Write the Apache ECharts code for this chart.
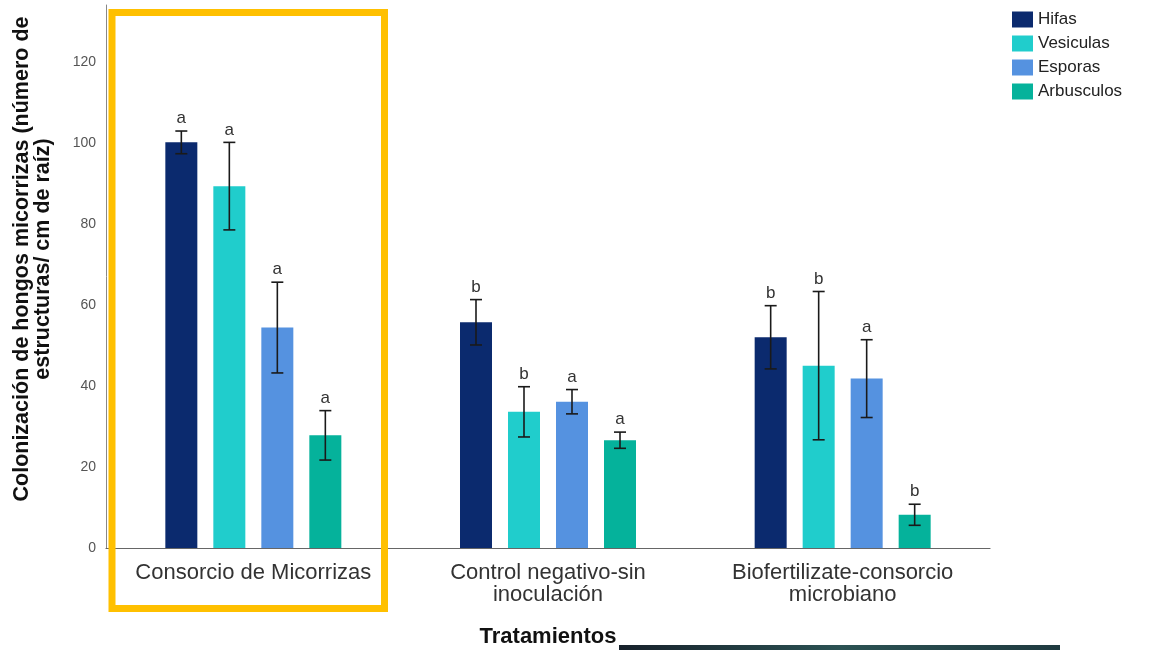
<!DOCTYPE html>
<html>
<head>
<meta charset="utf-8">
<script src="https://cdn.jsdelivr.net/npm/echarts@6/dist/echarts.min.js"></script>
<style>
  html, body { margin: 0; padding: 0; background: #fff; }
  #chart { width: 1153px; height: 650px; }
</style>
</head>
<body>
<div id="chart"></div>
<script>
// tratamientos
var categories = ['Consorcio de Micorrizas', 'Control negativo-sin\ninoculación', 'Biofertilizate-consorcio\nmicrobiano']

// medias
var hifas = [100.1, 55.7, 52.0]
var vesiculas = [89.3, 33.6, 45.0]
var esporas = [54.4, 36.1, 41.8]
var arbusculos = [27.8, 26.6, 8.2]

// error (+/-)
var hifasErr = [2.8, 5.6, 7.8]
var vesiculasErr = [10.8, 6.2, 18.3]
var esporasErr = [11.2, 3.0, 9.6]
var arbusculosErr = [6.1, 2.0, 2.6]

// letras de significancia
var hifasSig = ['a', 'b', 'b']
var vesiculasSig = ['a', 'b', 'b']
var esporasSig = ['a', 'a', 'a']
var arbusculosSig = ['a', 'a', 'b']

var yTicks = [0, 20, 40, 60, 80, 100, 120]

var names = ['Hifas', 'Vesiculas', 'Esporas', 'Arbusculos']
var colors = ['#0b2a6e', '#20cdcc', '#5592e0', '#05b29b']
var means = [hifas, vesiculas, esporas, arbusculos]
var errs = [hifasErr, vesiculasErr, esporasErr, arbusculosErr]
var sigs = [hifasSig, vesiculasSig, esporasSig, arbusculosSig]

var BAR_W = 32
var BAR_GAP = 16
var FONT = 'Liberation Sans, Arial, sans-serif'

function errorSeries (k) {
  var offset = (k - 1.5) * (BAR_W + BAR_GAP)
  return {
    type: 'custom',
    name: names[k] + ' err',
    z: 5,
    encode: { x: 0, y: [1, 2] },
    data: means[k].map(function (m, i) { return [i, m - errs[k][i], m + errs[k][i]] }),
    renderItem: function (params, api) {
      var c = api.value(0)
      var lo = api.coord([c, api.value(1)])
      var hi = api.coord([c, api.value(2)])
      var x = lo[0] + offset
      var st = { stroke: '#1a1a1a', lineWidth: 1.6 }
      return {
        type: 'group',
        children: [
          { type: 'line', shape: { x1: x, y1: hi[1], x2: x, y2: lo[1] }, style: st },
          { type: 'line', shape: { x1: x - 6, y1: hi[1], x2: x + 6, y2: hi[1] }, style: st },
          { type: 'line', shape: { x1: x - 6, y1: lo[1], x2: x + 6, y2: lo[1] }, style: st },
          {
            type: 'text',
            style: {
              x: x, y: hi[1] - 4, text: sigs[k][params.dataIndex],
              fill: '#333', font: '17px ' + FONT, align: 'center', verticalAlign: 'bottom'
            }
          }
        ]
      }
    }
  }
}

var series = []
names.forEach(function (n, k) {
  series.push({
    type: 'bar',
    name: n,
    data: means[k],
    barWidth: BAR_W,
    barGap: (BAR_GAP / BAR_W * 100) + '%',
    itemStyle: { color: colors[k] }
  })
})
names.forEach(function (n, k) { series.push(errorSeries(k)) })

var option = {
  backgroundColor: '#fff',
  animation: false,
  textStyle: { fontFamily: FONT },
  grid: { left: 106, right: 163, top: 5, bottom: 102, outerBoundsMode: 'none', containLabel: false },
  legend: {
    data: names,
    orient: 'vertical',
    left: 1007,
    top: 6,
    icon: 'rect',
    itemWidth: 21,
    itemHeight: 16,
    itemGap: 7,
    textStyle: { fontSize: 17, color: '#222', fontFamily: FONT }
  },
  xAxis: {
    type: 'category',
    data: categories,
    name: 'Tratamientos',
    nameLocation: 'middle',
    nameGap: 78,
    nameTextStyle: { fontSize: 22, fontWeight: 'bold', color: '#111', fontFamily: FONT },
    axisLine: { lineStyle: { color: '#666', width: 1.2 } },
    axisTick: { show: false },
    axisLabel: { fontSize: 22, lineHeight: 22, color: '#333', margin: 14, fontFamily: FONT, interval: 0 }
  },
  yAxis: {
    type: 'value',
    min: yTicks[0],
    max: 134,
    interval: yTicks[1] - yTicks[0],
    name: 'Colonización de hongos micorrizas (número de\nestructuras/ cm de raíz)',
    nameLocation: 'middle',
    nameGap: 52,
    nameTextStyle: { fontSize: 21.5, fontWeight: 'bold', color: '#111', lineHeight: 21, fontFamily: FONT, padding: [0, 0, 0, 35] },
    axisLine: { show: true, lineStyle: { color: '#888', width: 1 } },
    axisTick: { show: false },
    splitLine: { show: false },
    axisLabel: { fontSize: 14, color: '#555', margin: 10, showMaxLabel: false, fontFamily: FONT }
  },
  graphic: [
    {
      type: 'rect',
      z: 100,
      shape: { x: 112, y: 12.5, width: 272.5, height: 596 },
      style: { fill: 'none', stroke: '#ffc000', lineWidth: 7 }
    },
    {
      type: 'rect',
      z: 100,
      shape: { x: 619, y: 645, width: 441, height: 5 },
      style: {
        fill: new echarts.graphic.LinearGradient(0, 0, 1, 0, [
          { offset: 0, color: '#17212b' },
          { offset: 0.5, color: '#2b5253' },
          { offset: 1, color: '#1f3a40' }
        ])
      }
    }
  ],
  series: series
}

var myChart = echarts.init(document.getElementById('chart'))
myChart.setOption(option)
</script>
</body>
</html>
